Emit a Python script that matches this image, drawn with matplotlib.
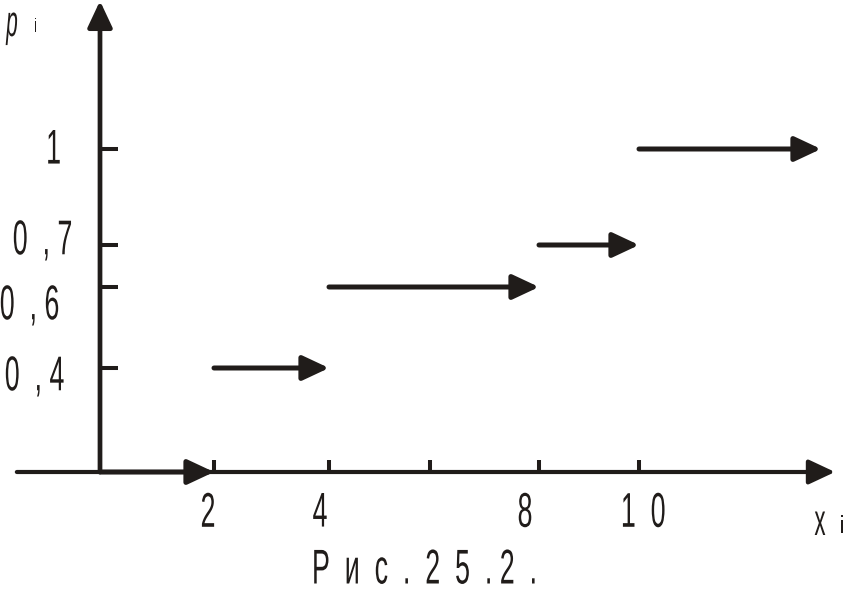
import numpy as np
import matplotlib
matplotlib.use('Agg')
import matplotlib.pyplot as plt
from matplotlib.patheffects import AbstractPathEffect
from matplotlib.transforms import Affine2D

# ---------------- data ----------------
x_values = [2, 4, 8, 10]                 # values of the random variable
probabilities = [0.4, 0.2, 0.1, 0.3]     # p_i
x_tick_values = [2, 4, 6, 8, 10]
x_tick_labels = ['2', '4', '', '8', '1  0']
y_tick_values = [0.4, 0.6, 0.7, 1.0]
y_tick_labels = ['0  , 4', '0  , 6', '0  , 7', '1']
caption = 'Р  и  с  .  2  5  . 2  .'

cdf_levels = np.concatenate([[0.0], np.cumsum(probabilities)])

# ---------------- layout / style ----------------
INK = '#201c1a'
FONT = 'Liberation Sans'
W, H = 849, 589

# piecewise-linear scale nodes (hand-drawn, non-uniform spacing)
X_NODES = [-50, 0, 2, 4, 6, 8, 10, 60]
X_PIX = [100 - 50 * 54, 100, 214, 329, 430, 539, 639, 639 + 50 * 54]
Y_NODES = [-5, 0, 0.4, 0.6, 0.7, 1.0, 6]
Y_ROW = [472 + 5 * 322, 472, 368, 287, 245, 149, 149 - 5 * 322]

# hand-lettered label jitter (pixels: right, down)
X_LABEL_NUDGE = [(-6, 0), (-9, 0), (0, 0), (-14, 0), (4, 0)]
Y_LABEL_NUDGE = [(0, 6), (-5, 16), (8, -7), (-3, -3)]


def fx(v):
    return np.interp(v, X_NODES, X_PIX)


def fx_inv(p):
    return np.interp(p, X_PIX, X_NODES)


def fy(v):
    return -np.interp(v, Y_NODES, Y_ROW)


def fy_inv(p):
    return np.interp(-np.asarray(p), Y_ROW[::-1], Y_NODES[::-1])


X_AXIS_START, X_AXIS_END = -1.54, 13.63
Y_AXIS_TOP = 1.46
LAST_STEP_END = 13.37


class Stretch(AbstractPathEffect):
    """Stretch glyph outlines vertically (tall, narrow lettering)."""

    def __init__(self, sy=1.82, anchor='baseline', dx=0.0, dy=0.0):
        super().__init__()
        self.sy = sy
        self.anchor = anchor
        self.dx = dx
        self.dy = dy

    def draw_path(self, renderer, gc, tpath, affine, rgbFace=None):
        if self.anchor == 'baseline':
            y0 = affine.transform_point((0, 0))[1]
        else:
            bb = tpath.get_extents(affine)
            if self.anchor == 'top':
                y0 = bb.y1
            else:
                y0 = 0.5 * (bb.y0 + bb.y1)
        aff = (affine + Affine2D().translate(0, -y0).scale(1, self.sy)
               .translate(self.dx, y0 - self.dy))
        renderer.draw_path(gc, tpath, aff, rgbFace)


fig = plt.figure(figsize=(W / 100, H / 100), dpi=100)
fig.patch.set_facecolor('white')
ax = fig.add_axes([0, 0, 1, 1])
ax.set_facecolor('none')
ax.set_xscale('function', functions=(fx, fx_inv))
ax.set_yscale('function', functions=(fy, fy_inv))
ax.set_xlim(float(fx_inv(0)), float(fx_inv(W)))
ax.set_ylim(float(fy_inv(-H)), float(fy_inv(0)))

for s in ['top', 'right']:
    ax.spines[s].set_visible(False)
ax.spines['left'].set_position(('data', 0))
ax.spines['bottom'].set_position(('data', 0))
ax.spines['left'].set_color('none')
ax.spines['bottom'].set_color('none')

LABEL_SIZE = 19.3
ax.set_xticks(x_tick_values, x_tick_labels)
ax.set_yticks(y_tick_values, y_tick_labels)
ax.minorticks_off()
ax.tick_params(axis='x', direction='in', length=8.6, width=2.9, pad=14,
               labelsize=LABEL_SIZE, colors=INK)
ax.tick_params(axis='y', direction='in', length=13, width=2.9, pad=26,
               labelsize=LABEL_SIZE, colors=INK)
for lbl, (ndx, ndy) in zip(ax.get_xticklabels(), X_LABEL_NUDGE):
    lbl.set_fontfamily(FONT)
    lbl.set_path_effects([Stretch(1.82, 'top', dx=ndx, dy=ndy)])
for lbl, (ndx, ndy) in zip(ax.get_yticklabels(), Y_LABEL_NUDGE):
    lbl.set_fontfamily(FONT)
    lbl.set_path_effects([Stretch(1.82, 'center', dx=ndx, dy=ndy)])

HEAD = '-|>,head_length=16,head_width=7.5'


def arrow(x0, y0, x1, y1, lw):
    ax.annotate('', xy=(x1, y1), xytext=(x0, y0), xycoords='data',
                annotation_clip=False,
                arrowprops=dict(arrowstyle=HEAD, lw=lw, color=INK,
                                shrinkA=0, shrinkB=0, mutation_scale=1))


# coordinate axes
arrow(X_AXIS_START, 0, X_AXIS_END, 0, 3.0)
arrow(0, 0, 0, Y_AXIS_TOP, 3.4)

# distribution-function steps
starts = [0] + list(x_values)
ends = list(x_values) + [LAST_STEP_END]
for a, b, lev in zip(starts, ends, cdf_levels):
    arrow(a, lev, b, lev, 3.6)

# axis names and caption
tr = ax.transAxes
ax.text(12 / W, 1 - 36 / H, 'p', transform=tr, fontsize=15, style='italic',
        family=FONT, color=INK, ha='center', va='baseline',
        path_effects=[Stretch(2.1)])
ax.text(36 / W, 1 - 32 / H, 'i', transform=tr, fontsize=9,
        family=FONT, color=INK, ha='center', va='baseline',
        path_effects=[Stretch(1.6)])
ax.text(820 / W, 1 - 535 / H, 'x', transform=tr, fontsize=16,
        family=FONT, color=INK, ha='center', va='baseline',
        path_effects=[Stretch(2.0)])
ax.text(842 / W, 1 - 533 / H, 'i', transform=tr, fontsize=10,
        family=FONT, color=INK, ha='center', va='baseline',
        path_effects=[Stretch(1.8)])
ax.text(424 / W, 1 - 583.5 / H, caption, transform=tr, fontsize=LABEL_SIZE,
        family=FONT, color=INK, ha='center', va='baseline',
        path_effects=[Stretch(1.82)])

fig.savefig('out.png', dpi=100, facecolor='white')
